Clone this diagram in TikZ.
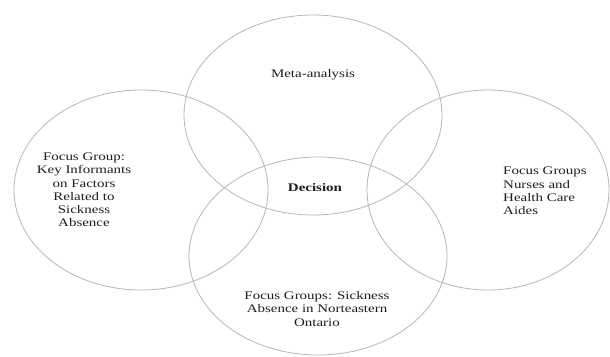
\documentclass[tikz,border=0pt]{standalone}
\usepackage{fontspec}
\setmainfont{Liberation Serif}[FakeStretch=1.29]
\usepackage{tikz}
\definecolor{vennline}{HTML}{B8B8B8}
\definecolor{venntext}{HTML}{1E1E1E}
\tikzset{
  ring/.style={draw=vennline, line width=0.8pt},
  venntxt/.style={text=venntext, inner sep=0pt, align=center,
                  font=\fontsize{11.6}{13.2}\selectfont}
}

\begin{document}
\begin{tikzpicture}[x=1pt, y=-1pt]
    \useasboundingbox[fill=white] (0,0) rectangle (610,356);

    % the four rings
    \draw[ring] (313,115) ellipse [x radius=129pt, y radius=100pt];
    \draw[ring] (141,190) ellipse [x radius=127pt, y radius=100pt];
    \draw[ring] (488,190) ellipse [x radius=121pt, y radius=100pt];
    \draw[ring] (318,256) ellipse [x radius=129pt, y radius=99pt];

    \node[venntxt] (meta) at (313,75) {Meta-analysis};
    \node[venntxt, font=\fontsize{11.6}{13.2}\selectfont\bfseries] (decision) at (315,188) {Decision};
    \node[venntxt] (informants) at (84,190)
      {Focus Group:\\Key Informants\\on Factors\\Related to\\Sickness\\Absence};
    \node[venntxt, align=left, anchor=west] (nurses) at (503,191)
      {Focus Groups\\Nurses and\\Health Care\\Aides};
    \node[venntxt] (northeast) at (317,309)
      {Focus Groups: Sickness\\Absence in Norteastern\\Ontario};
  \end{tikzpicture}
\end{document}
